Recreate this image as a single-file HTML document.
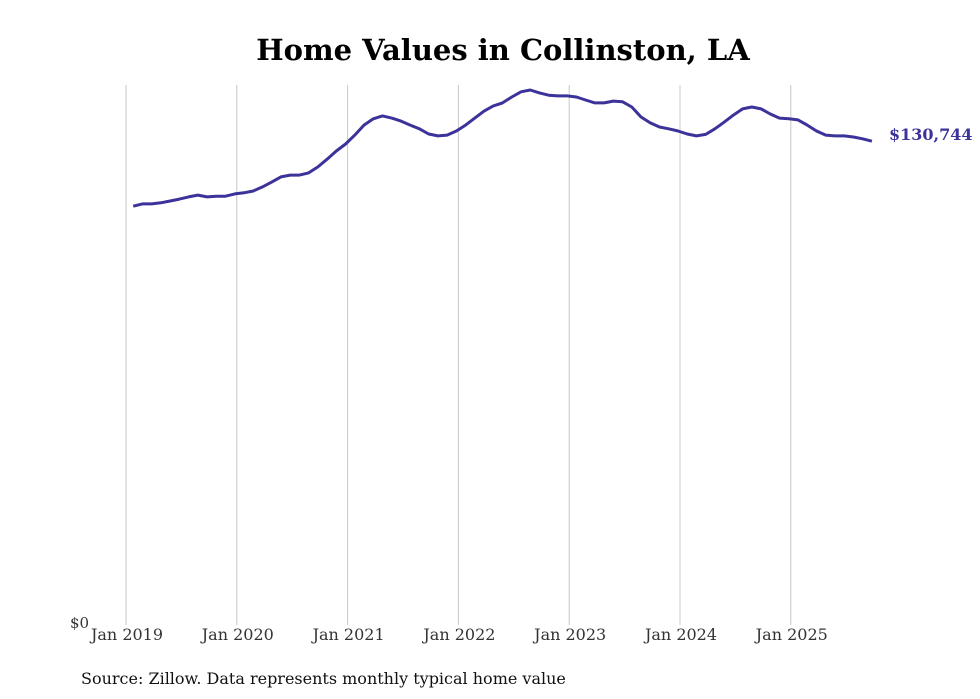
<!DOCTYPE html>
<html><head><meta charset="utf-8"><style>
body{margin:0;background:#fff;}
svg{display:block;font-family:"DejaVu Serif","Liberation Serif",serif;}
</style></head><body>
<svg id="chart" width="980" height="699">
<text x="503" y="60" text-anchor="middle" font-size="29" font-weight="bold" fill="#000">Home Values in Collinston, LA</text>
<g id="grid"></g>
<g id="xlabels"></g>
<text x="70" y="628" font-size="15" fill="#333">$0</text>
<path id="line" fill="none" stroke="#3b3399" stroke-width="3" stroke-linejoin="round"></path>
<text id="endlabel" font-size="16" font-weight="bold" fill="#3b3399"></text>
<text x="81" y="684" font-size="16" fill="#111">Source: Zillow. Data represents monthly typical home value</text>
</svg>
<script>
const years = [2019,2020,2021,2022,2023,2024,2025];
const startYear = 2019;
const startMonth = 0;
const values = [
113.2,113.8,113.8,114.1,114.6,115.1,115.7,116.2,115.7,115.9,115.9,116.5,
116.8,117.3,118.4,119.7,121.1,121.6,121.6,122.2,123.8,125.9,128.1,130.0,
132.4,135.1,136.8,137.6,137.0,136.2,135.1,134.1,132.7,132.2,132.4,133.5,
135.1,137.0,138.9,140.3,141.1,142.7,144.1,144.6,143.8,143.2,143.0,143.0,
142.7,141.9,141.1,141.1,141.6,141.4,140.0,137.3,135.7,134.6,134.1,133.5,
132.7,132.2,132.6,134.1,135.9,137.8,139.5,140.0,139.5,138.1,137.0,136.8,
136.5,135.1,133.5,132.4,132.2,132.2,131.9,131.4,130.744];
const NS="http://www.w3.org/2000/svg";
const x0=126, pxPerYear=110.8, yBase=625, pxPerK=3.70;
const xs = t => x0 + (t - startYear)*pxPerYear;
const ys = v => yBase - v*pxPerK;
const grid=document.getElementById('grid'), xl=document.getElementById('xlabels');
years.forEach(y=>{
  const l=document.createElementNS(NS,'line');
  l.setAttribute('x1',xs(y));l.setAttribute('x2',xs(y));
  l.setAttribute('y1',85);l.setAttribute('y2',625);
  l.setAttribute('stroke','#c8c8c8');l.setAttribute('stroke-width','1');
  
  
  grid.appendChild(l);
  const t=document.createElementNS(NS,'text');
  t.setAttribute('x',xs(y)+1);t.setAttribute('y',640);
  t.setAttribute('text-anchor','middle');t.setAttribute('font-size','16');t.setAttribute('fill','#333');
  t.textContent='Jan '+y;
  
  
  xl.appendChild(t);
});
let d='';
const n=values.length;
values.forEach((v,i)=>{
  const t=startYear+(startMonth+i+0.78)/12;
  d+=(i?'L':'M')+xs(t).toFixed(1)+','+ys(v).toFixed(1);
});
document.getElementById('line').setAttribute('d',d);
const last=values[n-1];
const el=document.getElementById('endlabel');
el.setAttribute('x',889);
el.setAttribute('y',(ys(last)-1).toFixed(1));
el.textContent='$'+Math.round(last*1000).toLocaleString('en-US');
</script>
</body></html>
